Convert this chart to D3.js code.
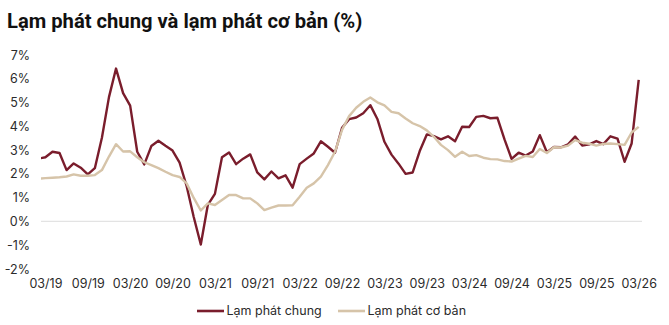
<!DOCTYPE html>
<html>
<head>
<meta charset="utf-8">
<script src="https://cdn.jsdelivr.net/npm/d3@7"></script>
<style>
  html, body { margin: 0; padding: 0; background: #fff; }
  svg { display: block; }
</style>
</head>
<body>
<svg id="chart" width="669" height="325"></svg>
<script>
// Monthly series, Feb 2019 – Mar 2026 (year-on-year, %)
const firstMonth = new Date(2019, 1, 1);
const lastMonth = new Date(2026, 2, 1);

const headline = [
  2.64, 2.70, 2.93, 2.88, 2.16, 2.44, 2.26, 1.98, 2.24, 3.52, 5.23,
  6.43, 5.40, 4.87, 2.93, 2.40, 3.17, 3.39, 3.18, 2.98, 2.47, 1.48, 0.19,
  -0.97, 0.70, 1.16, 2.70, 2.90, 2.41, 2.64, 2.82, 2.06, 1.77, 2.10, 1.81,
  1.94, 1.42, 2.41, 2.64, 2.86, 3.37, 3.14, 2.89, 3.94, 4.30, 4.37, 4.55,
  4.89, 4.31, 3.35, 2.81, 2.43, 2.00, 2.06, 2.96, 3.66, 3.59, 3.45, 3.58,
  3.37, 3.98, 3.97, 4.40, 4.44, 4.34, 4.36, 3.45, 2.63, 2.89, 2.77, 2.94,
  3.63, 2.91, 3.13, 3.12, 3.24, 3.57, 3.19, 3.24, 3.38, 3.25, 3.58, 3.48,
  2.51, 3.28, 5.95
];

const core = [
  1.80, 1.82, 1.84, 1.86, 1.89, 1.98, 1.92, 1.92, 1.95, 2.16, 2.73,
  3.25, 2.94, 2.95, 2.70, 2.49, 2.37, 2.24, 2.09, 1.95, 1.87, 1.60, 0.99,
  0.46, 0.76, 0.69, 0.90, 1.11, 1.11, 0.97, 0.97, 0.76, 0.48, 0.58, 0.67,
  0.67, 0.68, 1.04, 1.42, 1.60, 1.88, 2.37, 2.93, 3.85, 4.43, 4.78, 5.03,
  5.21, 5.01, 4.88, 4.61, 4.55, 4.33, 4.13, 4.01, 3.83, 3.56, 3.22, 3.00,
  2.72, 2.93, 2.75, 2.79, 2.68, 2.62, 2.61, 2.54, 2.52, 2.64, 2.76, 2.71,
  3.05, 2.88, 3.12, 3.11, 3.19, 3.42, 3.31, 3.27, 3.19, 3.26, 3.28, 3.25,
  3.22, 3.74, 3.98
];

const yTicks = [-2, -1, 0, 1, 2, 3, 4, 5, 6, 7];
const seriesNames = ["Lạm phát chung", "Lạm phát cơ bản"];
const seriesColors = ["#7a1d2c", "#d6c4a9"];
const titleText = "Lạm phát chung và lạm phát cơ bản (%)";

const months = d3.timeMonth.range(firstMonth, d3.timeMonth.offset(lastMonth, 1));
const tickMonths = months.filter(d => d.getMonth() === 2 || d.getMonth() === 8);

const svg = d3.select("#chart");
const font = "Inter, 'Noto Sans', sans-serif";

const plot = { left: 41, right: 642, top: 55, bottom: 269 };

// month index → x; Mar 2019 and Mar 2026 sit at the ends of the labelled range
const x = d3.scaleLinear()
  .domain([1, months.length - 1])
  .range([45.4, 638.7]);
const y = d3.scaleLinear()
  .domain([d3.min(yTicks), d3.max(yTicks)])
  .range([plot.bottom, plot.top]);

// Title
svg.append("text")
  .attr("x", 7)
  .attr("y", 28)
  .attr("font-family", "Roboto, Inter, sans-serif")
  .attr("font-weight", 700)
  .attr("font-size", 20.2)
  .attr("fill", "#111")
  .text(titleText);

// Y axis labels
const yAxis = d3.axisLeft(y).tickValues(yTicks).tickSize(0).tickPadding(0)
  .tickFormat(d => d + "%");
svg.append("g")
  .attr("transform", "translate(30,0)")
  .call(yAxis)
  .call(g => g.select(".domain").remove())
  .call(g => g.selectAll("text")
    .attr("font-family", font)
    .attr("font-size", 12.5)
    .attr("fill", "#2b2b2b"));

// Zero baseline
svg.append("line")
  .attr("x1", plot.left).attr("x2", plot.right)
  .attr("y1", y(0)).attr("y2", y(0))
  .attr("stroke", "#e3e3e3")
  .attr("stroke-width", 1.2);

// X axis labels
const xAxis = d3.axisBottom(x)
  .tickValues(tickMonths.map(d => months.indexOf(d)))
  .tickSize(0).tickPadding(0)
  .tickFormat(i => d3.timeFormat("%m/%y")(months[i]));
svg.append("g")
  .attr("transform", "translate(0,279)")
  .call(xAxis)
  .call(g => g.select(".domain").remove())
  .call(g => g.selectAll("text")
    .attr("font-family", font)
    .attr("font-size", 12.5)
    .attr("fill", "#2b2b2b"));

// Lines
svg.append("defs").append("clipPath").attr("id", "plot-clip")
  .append("rect")
  .attr("x", plot.left).attr("y", 0)
  .attr("width", plot.right - plot.left).attr("height", 325);

const line = d3.line()
  .x((d, i) => x(i))
  .y(d => y(d));

const lines = svg.append("g").attr("clip-path", "url(#plot-clip)");
[headline, core].forEach((series, k) => {
  lines.append("path")
    .datum(series)
    .attr("fill", "none")
    .attr("stroke", seriesColors[k])
    .attr("stroke-width", 2.4)
    .attr("stroke-linejoin", "round")
    .attr("stroke-linecap", "butt")
    .attr("d", line);
});

// Legend
const legend = svg.append("g").attr("transform", "translate(197,311)");
const legendX = [0, 141];
seriesNames.forEach((name, k) => {
  const g = legend.append("g").attr("transform", `translate(${legendX[k]},0)`);
  g.append("line")
    .attr("x1", 0).attr("x2", 27)
    .attr("y1", 0).attr("y2", 0)
    .attr("stroke", seriesColors[k])
    .attr("stroke-width", 2.6);
  g.append("text")
    .attr("x", 29.5)
    .attr("y", 0)
    .attr("dy", "0.35em")
    .attr("font-family", font)
    .attr("font-size", 12.5)
    .attr("fill", "#2b2b2b")
    .text(name);
});
</script>
</body>
</html>
